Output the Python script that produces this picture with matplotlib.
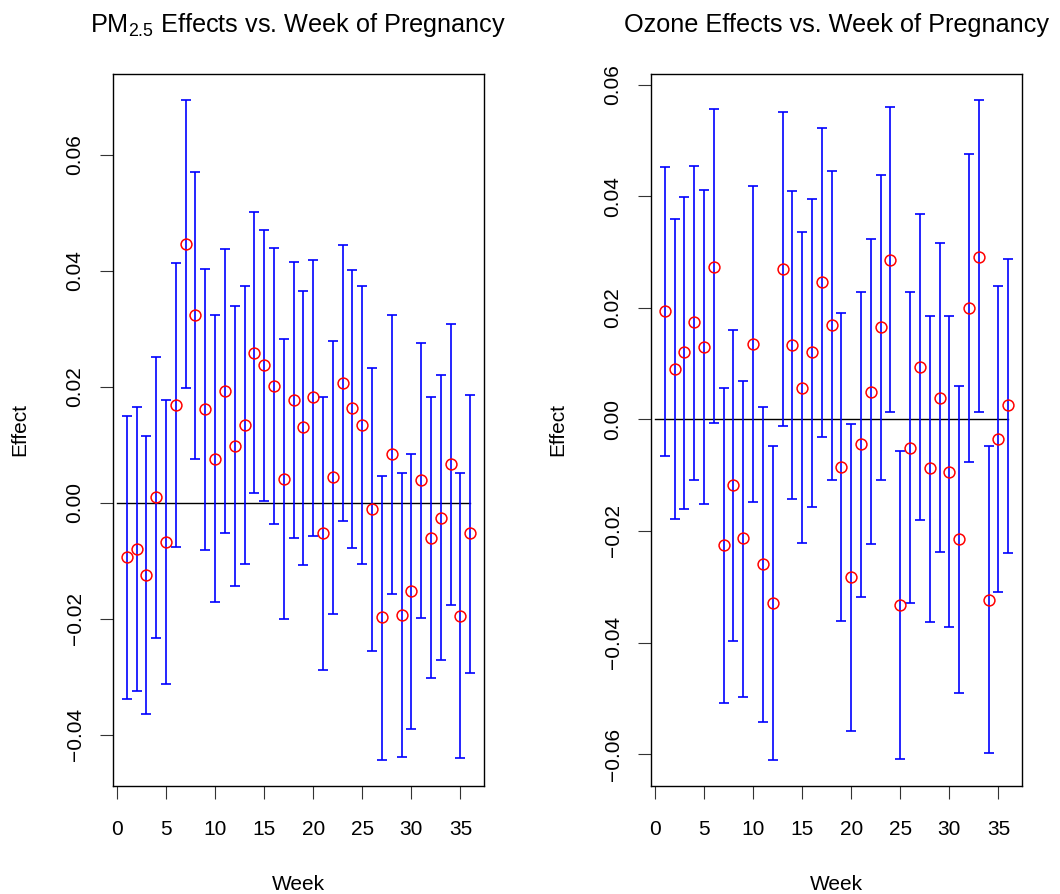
import numpy as np
import matplotlib
matplotlib.use("Agg")
import matplotlib.pyplot as plt

plt.rcParams['font.family'] = ['Liberation Sans', 'DejaVu Sans']
plt.rcParams['mathtext.fontset'] = 'custom'
plt.rcParams['mathtext.rm'] = 'Liberation Sans'
plt.rcParams['mathtext.it'] = 'Liberation Sans:italic'

weeks = np.arange(1, 37)

# PM2.5 effects and 95% interval bounds
pm_est = [-0.0094, -0.0079, -0.0124, 0.0010, -0.0068, 0.0169, 0.0447, 0.0323, 0.0162,
          0.0076, 0.0193, 0.0098, 0.0134, 0.0259, 0.0238, 0.0202, 0.0041, 0.0178,
          0.0130, 0.0182, -0.0053, 0.0045, 0.0206, 0.0163, 0.0134, -0.0010, -0.0197,
          0.0084, -0.0194, -0.0152, 0.0039, -0.0060, -0.0026, 0.0067, -0.0195, -0.0053]
pm_lo = [-0.0338, -0.0324, -0.0365, -0.0234, -0.0312, -0.0076, 0.0198, 0.0075, -0.0082,
         -0.0171, -0.0053, -0.0144, -0.0105, 0.0017, 0.0003, -0.0037, -0.0201, -0.0061,
         -0.0108, -0.0058, -0.0289, -0.0191, -0.0032, -0.0078, -0.0105, -0.0255, -0.0443,
         -0.0158, -0.0438, -0.0390, -0.0198, -0.0302, -0.0272, -0.0177, -0.0441, -0.0293]
pm_hi = [0.0150, 0.0165, 0.0116, 0.0252, 0.0178, 0.0413, 0.0694, 0.0570, 0.0403,
         0.0323, 0.0437, 0.0340, 0.0373, 0.0501, 0.0471, 0.0440, 0.0283, 0.0416,
         0.0366, 0.0419, 0.0182, 0.0279, 0.0445, 0.0402, 0.0373, 0.0233, 0.0047,
         0.0324, 0.0051, 0.0084, 0.0276, 0.0182, 0.0220, 0.0309, 0.0051, 0.0186]

# Ozone effects and 95% interval bounds
oz_est = [0.0194, 0.0090, 0.0120, 0.0174, 0.0130, 0.0274, -0.0225, -0.0118, -0.0213,
          0.0135, -0.0260, -0.0329, 0.0270, 0.0134, 0.0057, 0.0120, 0.0246, 0.0170,
          -0.0085, -0.0283, -0.0044, 0.0050, 0.0165, 0.0285, -0.0332, -0.0051, 0.0094,
          -0.0088, 0.0038, -0.0094, -0.0215, 0.0200, 0.0292, -0.0324, -0.0035, 0.0025]
oz_lo = [-0.0065, -0.0179, -0.0160, -0.0108, -0.0151, -0.0007, -0.0508, -0.0398, -0.0497,
         -0.0148, -0.0542, -0.0610, -0.0011, -0.0143, -0.0221, -0.0157, -0.0032, -0.0108,
         -0.0361, -0.0558, -0.0318, -0.0224, -0.0109, 0.0013, -0.0609, -0.0329, -0.0181,
         -0.0363, -0.0238, -0.0373, -0.0490, -0.0076, 0.0014, -0.0599, -0.0310, -0.0239]
oz_hi = [0.0452, 0.0360, 0.0398, 0.0454, 0.0411, 0.0556, 0.0057, 0.0161, 0.0068,
         0.0419, 0.0023, -0.0047, 0.0552, 0.0410, 0.0336, 0.0396, 0.0522, 0.0446,
         0.0191, -0.0009, 0.0228, 0.0324, 0.0438, 0.0560, -0.0056, 0.0228, 0.0369,
         0.0186, 0.0316, 0.0186, 0.0059, 0.0475, 0.0572, -0.0047, 0.0239, 0.0287]

x_ticks = [0, 5, 10, 15, 20, 25, 30, 35]
pm_yticks = [-0.04, -0.02, 0.00, 0.02, 0.04, 0.06]
oz_yticks = [-0.06, -0.04, -0.02, 0.00, 0.02, 0.04, 0.06]

fig = plt.figure(figsize=(10.6, 8.94), dpi=100)
ax1 = fig.add_axes([113 / 1060, 108 / 894, 371 / 1060, 712 / 894])
ax2 = fig.add_axes([651 / 1060, 108 / 894, 371 / 1060, 712 / 894])


def draw_panel(ax, est, lo, hi, yticks, title):
    est = np.array(est)
    lo = np.array(lo)
    hi = np.array(hi)
    ax.errorbar(weeks, est, yerr=[est - lo, hi - est], fmt='none', ecolor='blue',
                elinewidth=1.2, capsize=3.3, capthick=1.2, zorder=2)
    ax.plot(weeks, est, 'o', mfc='none', mec='red', ms=7.8, mew=1.1, zorder=3)
    ax.plot([0, 36], [0, 0], color='black', lw=1.0, zorder=1)

    # R-style 4% axis extension
    ymin, ymax = lo.min(), hi.max()
    pad = 0.04 * (ymax - ymin)
    ax.set_ylim(ymin - pad, ymax + pad)
    ax.set_xlim(1 - 0.04 * 35, 36 + 0.04 * 35)

    ax.set_xticks(x_ticks)
    ax.set_yticks(yticks)
    ax.set_yticklabels(['\u2212%.2f' % abs(v) if v < 0 else '%.2f' % v for v in yticks],
                       rotation=90, va='center')
    ax.tick_params(direction='out', length=9.5, width=0.8, labelsize=15,
                   color='#333333')
    ax.tick_params(axis='x', pad=15)
    ax.tick_params(axis='y', pad=11)
    for s in ax.spines.values():
        s.set_linewidth(1.0)
    ax.set_xlabel('Week', fontsize=15, labelpad=26)
    ax.set_ylabel('Effect', fontsize=15, labelpad=26)
    ax.set_title(title, fontsize=18.2, pad=30)


draw_panel(ax1, pm_est, pm_lo, pm_hi, pm_yticks, 'PM$_{2.5}$ Effects vs. Week of Pregnancy')
draw_panel(ax2, oz_est, oz_lo, oz_hi, oz_yticks, 'Ozone Effects vs. Week of Pregnancy')

fig.savefig('out.png', dpi=100)
